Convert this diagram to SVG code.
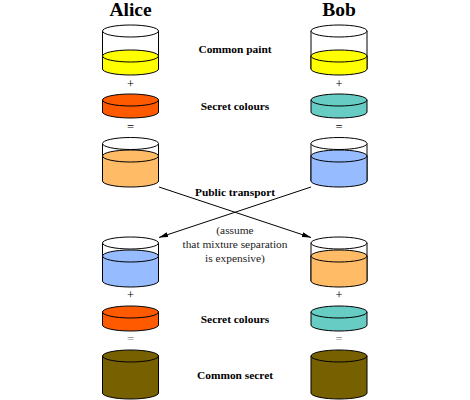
<svg xmlns="http://www.w3.org/2000/svg" width="470" height="400" viewBox="0 0 470 400">
<style>
text{font-family:"Liberation Serif","Times New Roman",serif;text-anchor:middle;fill:#000}
.h{font-size:19.500px;font-weight:bold}
.b{font-size:11.400px;font-weight:bold}
.n{font-size:11.400px;fill:#222}
.o{font-size:12.500px}
.g{fill:#888}
.c path,.c ellipse{stroke:#000;stroke-width:1}
.w{fill:#fff}
.y{fill:#ffff00}
.r{fill:#ff5a00}
.t{fill:#66ccc4}
.l{fill:#ffbb66}
.u{fill:#96bbff}
.d{fill:#776000}
#connectors line{stroke:#000;stroke-width:1;marker-end:url(#a)}
</style>
<defs>
<marker id="a" markerWidth="10" markerHeight="6" refX="9" refY="2.500" orient="auto" markerUnits="userSpaceOnUse"><path d="M0 0L9 2.500L0 5z" fill="#000"/></marker>
</defs>
<text class="h" x="130.500" y="16">Alice</text>
<text class="h" x="339" y="16">Bob</text>
<text class="b" x="235" y="53">Common paint</text>
<text class="b" x="235" y="109.500">Secret colours</text>
<text class="b" x="235" y="196">Public transport</text>
<text class="n" x="235" y="234">(assume</text>
<text class="n" x="235" y="248">that mixture separation</text>
<text class="n" x="235" y="262">is expensive)</text>
<text class="b" x="235" y="322.500">Secret colours</text>
<text class="b" x="235" y="378.500">Common secret</text>
<text class="o" x="130.500" y="88">+</text><text class="o" x="339" y="88">+</text>
<text class="o" x="130.500" y="130.500">=</text><text class="o" x="339" y="130.500">=</text>
<text class="o" x="130.500" y="299">+</text><text class="o" x="339" y="299">+</text>
<text class="o g" x="130.500" y="343">=</text><text class="o g" x="339" y="343">=</text>
<g id="connectors">
<line x1="159" y1="187" x2="311" y2="237.500"/>
<line x1="311" y1="187" x2="159" y2="237.500"/>
</g>
<g id="alice-paint" class="c"><path class="w" d="M102.500 31V69H158.500V31"/><path class="y" d="M102.500 56V69A28 6 0 0 0 158.500 69V56z"/><ellipse class="w" cx="130.500" cy="31" rx="28" ry="6"/><ellipse class="y" cx="130.500" cy="56" rx="28" ry="6"/></g>
<g id="bob-paint" class="c"><path class="w" d="M311 31V69H367V31"/><path class="y" d="M311 56V69A28 6 0 0 0 367 69V56z"/><ellipse class="w" cx="339" cy="31" rx="28" ry="6"/><ellipse class="y" cx="339" cy="56" rx="28" ry="6"/></g>
<g id="alice-secret" class="c"><path class="r" d="M102.500 100V112A28 6 0 0 0 158.500 112V100z"/><ellipse class="r" cx="130.500" cy="100" rx="28" ry="6"/></g>
<g id="bob-secret" class="c"><path class="t" d="M311 100V112A28 6 0 0 0 367 112V100z"/><ellipse class="t" cx="339" cy="100" rx="28" ry="6"/></g>
<g id="alice-mix" class="c"><path class="w" d="M102.500 143.500V181H158.500V143.500"/><path class="l" d="M102.500 156V181A28 6 0 0 0 158.500 181V156z"/><ellipse class="w" cx="130.500" cy="143.500" rx="28" ry="6"/><ellipse class="l" cx="130.500" cy="156" rx="28" ry="6"/></g>
<g id="bob-mix" class="c"><path class="w" d="M311 143.500V181H367V143.500"/><path class="u" d="M311 156V181A28 6 0 0 0 367 181V156z"/><ellipse class="w" cx="339" cy="143.500" rx="28" ry="6"/><ellipse class="u" cx="339" cy="156" rx="28" ry="6"/></g>
<g id="alice-received" class="c"><path class="w" d="M102.500 243V281H158.500V243"/><path class="u" d="M102.500 256V281A28 6 0 0 0 158.500 281V256z"/><ellipse class="w" cx="130.500" cy="243" rx="28" ry="6"/><ellipse class="u" cx="130.500" cy="256" rx="28" ry="6"/></g>
<g id="bob-received" class="c"><path class="w" d="M311 243V281H367V243"/><path class="l" d="M311 256V281A28 6 0 0 0 367 281V256z"/><ellipse class="w" cx="339" cy="243" rx="28" ry="6"/><ellipse class="l" cx="339" cy="256" rx="28" ry="6"/></g>
<g id="alice-secret-2" class="c"><path class="r" d="M102.500 312V325A28 6 0 0 0 158.500 325V312z"/><ellipse class="r" cx="130.500" cy="312" rx="28" ry="6"/></g>
<g id="bob-secret-2" class="c"><path class="t" d="M311 312V325A28 6 0 0 0 367 325V312z"/><ellipse class="t" cx="339" cy="312" rx="28" ry="6"/></g>
<g id="alice-common" class="c"><path class="d" d="M102.500 356V393A28 6 0 0 0 158.500 393V356z"/><ellipse class="d" cx="130.500" cy="356" rx="28" ry="6"/></g>
<g id="bob-common" class="c"><path class="d" d="M311 356V393A28 6 0 0 0 367 393V356z"/><ellipse class="d" cx="339" cy="356" rx="28" ry="6"/></g>
</svg>
